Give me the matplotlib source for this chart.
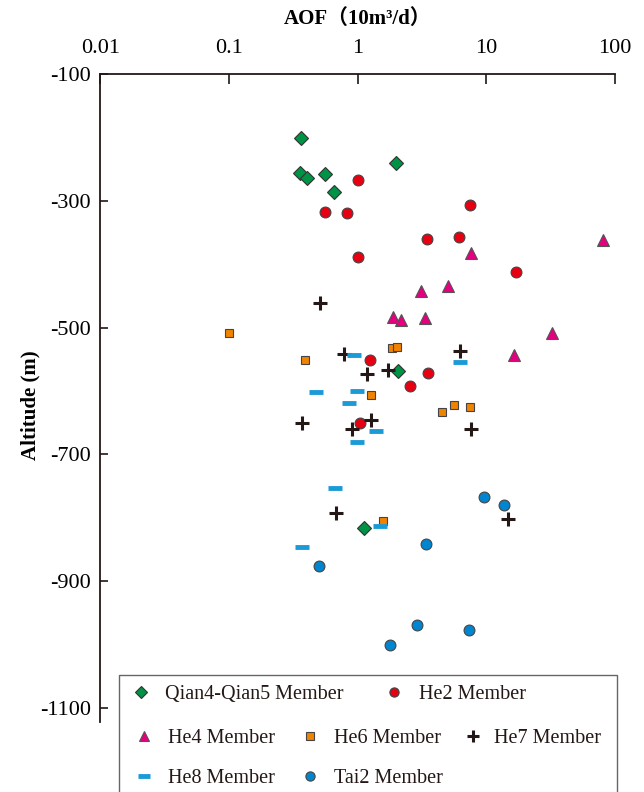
import matplotlib.pyplot as plt
from matplotlib.lines import Line2D
from matplotlib.patches import Rectangle

plt.rcParams['font.family'] = ['Liberation Serif', 'Noto Sans CJK SC', 'DejaVu Sans']

# AOF (10 m3/d) and altitude (m), one pair of lists per member
qian45_aof = [0.36, 1.98, 0.357, 0.40, 0.56, 0.65, 2.04, 1.12]
qian45_alt = [-200, -240, -256, -264, -257, -286, -569, -817]

he2_aof = [1.0, 0.56, 0.83, 7.45, 3.43, 6.15, 1.01, 17.1, 1.25, 3.53, 2.53, 1.04]
he2_alt = [-267, -318, -319, -307, -360, -357, -389, -412, -551, -571, -593, -650]

he4_aof = [81, 7.6, 5.06, 3.08, 1.89, 2.15, 3.31, 16.3, 32.4]
he4_alt = [-362, -382, -434, -442, -484, -488, -485, -543, -509]

he6_aof = [0.1, 0.39, 1.83, 2.02, 1.27, 4.54, 5.63, 7.5, 1.58]
he6_alt = [-509, -552, -533, -531, -607, -634, -623, -626, -805]

he7_aof = [0.51, 0.78, 6.19, 1.19, 1.72, 0.37, 1.27, 0.9, 7.6, 0.68, 14.7]
he7_alt = [-462, -541, -537, -573, -567, -651, -646, -660, -660, -792, -802]

he8_aof = [0.94, 6.19, 0.47, 0.99, 0.86, 1.39, 0.99, 0.67, 1.5, 0.37]
he8_alt = [-543, -554, -601, -600, -619, -664, -681, -753, -813, -847]

tai2_aof = [9.55, 13.7, 3.39, 0.5, 2.87, 1.78, 7.36]
tai2_alt = [-768, -780, -842, -876, -969, -1001, -978]

series = [
    ('Qian4-Qian5 Member', qian45_aof, qian45_alt,
     dict(marker='D', ms=7.5, mfc='#009245', mec='#333333', mew=0.8)),
    ('He2 Member', he2_aof, he2_alt,
     dict(marker='o', ms=7.8, mfc='#e60012', mec='#444444', mew=0.8)),
    ('He4 Member', he4_aof, he4_alt,
     dict(marker='^', ms=8.5, mfc='#e4007f', mec='#555555', mew=0.8)),
    ('He6 Member', he6_aof, he6_alt,
     dict(marker='s', ms=6, mfc='#f08300', mec='#444444', mew=0.8)),
    ('He7 Member', he7_aof, he7_alt,
     dict(marker='+', ms=10, mfc='#231815', mec='#231815', mew=2.2)),
    ('He8 Member', he8_aof, he8_alt,
     dict(marker='_', ms=10, mfc='#1a9bd7', mec='#1a9bd7', mew=3.5)),
    ('Tai2 Member', tai2_aof, tai2_alt,
     dict(marker='o', ms=7.8, mfc='#0086d1', mec='#444444', mew=0.8)),
]

fig = plt.figure(figsize=(6.44, 7.92), dpi=100)
ax = fig.add_axes([0.156, 0.089, 0.799, 0.8173])

for name, xs, ys, style in series:
    ax.plot(xs, ys, linestyle='none', **style)

ax.set_xscale('log')
ax.set_xlim(0.01, 100)
ax.set_ylim(-1122, -100)
ax.set_xticks([0.01, 0.1, 1, 10, 100])
ax.set_xticklabels(['0.01', '0.1', '1', '10', '100'])
ax.xaxis.set_minor_locator(plt.NullLocator())
ax.set_yticks(range(-1100, 0, 200))
ax.set_yticklabels(['-1100', '-900', '-700', '-500', '-300', '-100'])
ax.xaxis.tick_top()
ax.tick_params(axis='x', direction='in', length=7, width=1.2, pad=12,
               labelsize=16, color='#231815')
ax.tick_params(axis='y', direction='in', length=6, width=1.2, pad=7,
               labelsize=16, color='#231815')
for side in ('right', 'bottom'):
    ax.spines[side].set_visible(False)
for side in ('top', 'left'):
    ax.spines[side].set_linewidth(1.3)
    ax.spines[side].set_color('#231815')

fig.text(357.5 / 644, 1 - 19 / 792, 'AOF（10m³/d）', ha='center', va='center',
         fontsize=15, fontweight='bold')
fig.text(30 / 644, 1 - 405 / 792, 'Altitude (m)', ha='center', va='center',
         rotation=90, fontsize=15, fontweight='bold')

# legend box drawn by hand: entries sit in an uneven grid in the original
fig.add_artist(Rectangle((119 / 644, -0.05), 498 / 644, 0.05 + 1 - 675 / 792,
                         transform=fig.transFigure, fill=False,
                         edgecolor='#666666', linewidth=1.0))
slots = [(141, 165, 692), (394, 419, 692),
         (144, 168, 736), (310, 334, 736), (473, 494, 736),
         (144, 168, 776), (310, 334, 776)]
for (name, xs, ys, style), (mx, tx, py) in zip(series, slots):
    st = dict(style)
    st['ms'] = style['ms'] * 0.85
    fig.add_artist(Line2D([mx / 644], [1 - py / 792], transform=fig.transFigure,
                          linestyle='none', **st))
    fig.text(tx / 644, 1 - py / 792, name, ha='left', va='center_baseline',
             fontsize=14.5, color='#231815')

fig.savefig('out.png', dpi=100)
